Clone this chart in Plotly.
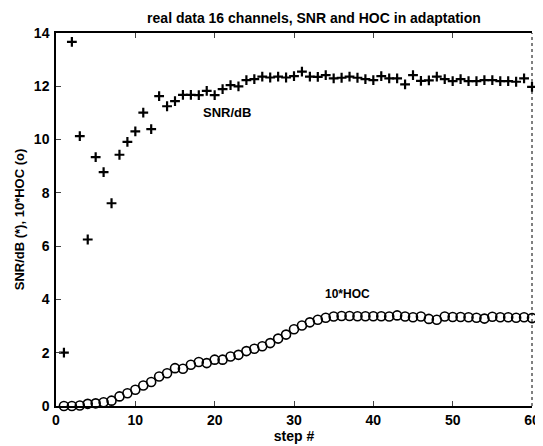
import plotly.graph_objects as go

steps = list(range(1, 61))
snr_db = [2.0, 13.67, 10.13, 6.25, 9.34, 8.78, 7.61, 9.43, 9.91, 10.31,
          11.01, 10.39, 11.63, 11.25, 11.44, 11.68, 11.68, 11.67, 11.83, 11.67,
          11.89, 12.04, 12.0, 12.23, 12.27, 12.36, 12.33, 12.36, 12.33, 12.38,
          12.55, 12.36, 12.35, 12.42, 12.3, 12.32, 12.36, 12.32, 12.27, 12.23,
          12.38, 12.3, 12.3, 12.07, 12.42, 12.2, 12.22, 12.36, 12.27, 12.19,
          12.27, 12.19, 12.19, 12.23, 12.23, 12.19, 12.19, 12.17, 12.3, 11.98]
hoc10 = [0.0, 0.0, 0.02, 0.08, 0.1, 0.14, 0.2, 0.36, 0.48, 0.61,
         0.77, 0.9, 1.11, 1.23, 1.42, 1.4, 1.55, 1.65, 1.61, 1.74,
         1.74, 1.86, 1.92, 2.06, 2.15, 2.24, 2.36, 2.53, 2.68, 2.88,
         3.02, 3.14, 3.24, 3.31, 3.36, 3.38, 3.38, 3.37, 3.37, 3.37,
         3.37, 3.36, 3.4, 3.36, 3.33, 3.36, 3.27, 3.24, 3.36, 3.34,
         3.34, 3.33, 3.31, 3.28, 3.35, 3.33, 3.33, 3.31, 3.33, 3.3]
x_ticks = [0, 10, 20, 30, 40, 50, 60]
y_ticks = [0, 2, 4, 6, 8, 10, 12, 14]

font = "Liberation Sans, Arial, sans-serif"

fig = go.Figure()
fig.add_trace(go.Scatter(
    x=steps, y=snr_db, mode="markers",
    marker=dict(symbol="cross-thin", size=7, line=dict(color="black", width=2.2)),
    showlegend=False, cliponaxis=False))
fig.add_trace(go.Scatter(
    x=steps, y=hoc10, mode="markers",
    marker=dict(symbol="circle-open", size=9, color="black", line=dict(color="black", width=1.6)),
    showlegend=False, cliponaxis=False))

fig.add_annotation(x=21.6, y=11.0, text="<b>SNR/dB</b>", showarrow=False,
                   font=dict(family=font, size=13, color="black"))
fig.add_annotation(x=36.8, y=4.22, text="<b>10*HOC</b>", showarrow=False,
                   font=dict(family=font, size=12, color="black"))

fig.add_shape(type="line", xref="paper", yref="paper", x0=1, x1=1, y0=0, y1=1,
              line=dict(color="black", width=1, dash="dot"))

# page body has an 8px default margin, so the figure is sized to fit inside it
fig.update_layout(
    width=535, height=438,
    margin=dict(l=48, r=11, t=25, b=40),
    paper_bgcolor="white", plot_bgcolor="white",
    title=dict(text="<b>real data 16 channels, SNR and HOC in adaptation</b>",
               xref="paper", x=0.542, xanchor="center", y=0.977, yanchor="middle",
               font=dict(family=font, size=14, color="black")),
    xaxis=dict(range=[0, 60], tickvals=x_ticks, ticks="inside", ticklen=5,
               showline=True, linecolor="black", linewidth=1.5, mirror="ticks",
               showgrid=False, zeroline=False, automargin=False,
               ticklabelstandoff=0,
               tickfont=dict(family=font, size=14, color="black", weight="bold"),
               title=dict(text="<b>step #</b>", standoff=1,
                          font=dict(family=font, size=14, color="black"))),
    yaxis=dict(range=[0, 14], tickvals=y_ticks, ticks="inside", ticklen=5,
               showline=True, linecolor="black", linewidth=1.5, mirror=False,
               showgrid=False, zeroline=False, automargin=False,
               ticklabelstandoff=2,
               tickfont=dict(family=font, size=14, color="black", weight="bold"),
               title=dict(text="<b>SNR/dB (*), 10*HOC (o)</b>", standoff=6,
                          font=dict(family=font, size=13, color="black"))),
)

fig.write_html("out.html")
